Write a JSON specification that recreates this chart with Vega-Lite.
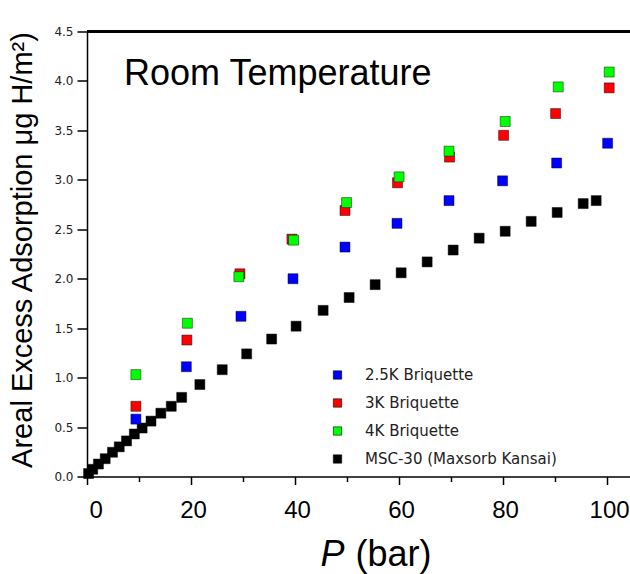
{
  "$schema": "https://vega.github.io/schema/vega-lite/v6.json",
  "width": 543,
  "height": 445,
  "autosize": {"type": "none"},
  "padding": {"left": 87, "top": 31.5, "right": 0, "bottom": 97.5},
  "background": "white",
  "config": {"view": {"stroke": null}, "font": "Liberation Sans"},
  "title": {"text": "Room Temperature", "anchor": "start", "frame": "group", "orient": "top", "offset": 0, "dx": 37, "dy": 95.5, "baseline": "alphabetic", "fontSize": 36, "fontWeight": "normal", "font": "Liberation Sans", "color": "black"},
  "data": {"values": [
    {"series": "MSC-30 (Maxsorb Kansai)", "P": 0.3, "A": 0.03},
    {"series": "MSC-30 (Maxsorb Kansai)", "P": 1.1, "A": 0.073},
    {"series": "MSC-30 (Maxsorb Kansai)", "P": 2.2, "A": 0.126},
    {"series": "MSC-30 (Maxsorb Kansai)", "P": 3.5, "A": 0.18},
    {"series": "MSC-30 (Maxsorb Kansai)", "P": 4.9, "A": 0.245},
    {"series": "MSC-30 (Maxsorb Kansai)", "P": 6.2, "A": 0.30},
    {"series": "MSC-30 (Maxsorb Kansai)", "P": 7.6, "A": 0.36},
    {"series": "MSC-30 (Maxsorb Kansai)", "P": 9.1, "A": 0.43},
    {"series": "MSC-30 (Maxsorb Kansai)", "P": 10.6, "A": 0.49},
    {"series": "MSC-30 (Maxsorb Kansai)", "P": 12.3, "A": 0.56},
    {"series": "MSC-30 (Maxsorb Kansai)", "P": 14.2, "A": 0.64},
    {"series": "MSC-30 (Maxsorb Kansai)", "P": 16.2, "A": 0.71},
    {"series": "MSC-30 (Maxsorb Kansai)", "P": 18.2, "A": 0.80},
    {"series": "MSC-30 (Maxsorb Kansai)", "P": 21.7, "A": 0.93},
    {"series": "MSC-30 (Maxsorb Kansai)", "P": 26.0, "A": 1.08},
    {"series": "MSC-30 (Maxsorb Kansai)", "P": 30.7, "A": 1.24},
    {"series": "MSC-30 (Maxsorb Kansai)", "P": 35.5, "A": 1.39},
    {"series": "MSC-30 (Maxsorb Kansai)", "P": 40.2, "A": 1.52},
    {"series": "MSC-30 (Maxsorb Kansai)", "P": 45.4, "A": 1.68},
    {"series": "MSC-30 (Maxsorb Kansai)", "P": 50.4, "A": 1.81},
    {"series": "MSC-30 (Maxsorb Kansai)", "P": 55.4, "A": 1.94},
    {"series": "MSC-30 (Maxsorb Kansai)", "P": 60.4, "A": 2.06},
    {"series": "MSC-30 (Maxsorb Kansai)", "P": 65.4, "A": 2.17},
    {"series": "MSC-30 (Maxsorb Kansai)", "P": 70.4, "A": 2.29},
    {"series": "MSC-30 (Maxsorb Kansai)", "P": 75.4, "A": 2.41},
    {"series": "MSC-30 (Maxsorb Kansai)", "P": 80.4, "A": 2.48},
    {"series": "MSC-30 (Maxsorb Kansai)", "P": 85.4, "A": 2.58},
    {"series": "MSC-30 (Maxsorb Kansai)", "P": 90.4, "A": 2.67},
    {"series": "MSC-30 (Maxsorb Kansai)", "P": 95.4, "A": 2.76},
    {"series": "MSC-30 (Maxsorb Kansai)", "P": 97.9, "A": 2.79},
    {"series": "2.5K Briquette", "P": 9.4, "A": 0.58},
    {"series": "2.5K Briquette", "P": 19.1, "A": 1.11},
    {"series": "2.5K Briquette", "P": 29.6, "A": 1.62},
    {"series": "2.5K Briquette", "P": 39.6, "A": 2.00},
    {"series": "2.5K Briquette", "P": 49.6, "A": 2.32},
    {"series": "2.5K Briquette", "P": 59.6, "A": 2.56},
    {"series": "2.5K Briquette", "P": 69.6, "A": 2.79},
    {"series": "2.5K Briquette", "P": 79.9, "A": 2.99},
    {"series": "2.5K Briquette", "P": 90.3, "A": 3.17},
    {"series": "2.5K Briquette", "P": 100.1, "A": 3.37},
    {"series": "3K Briquette", "P": 9.4, "A": 0.71},
    {"series": "3K Briquette", "P": 19.2, "A": 1.38},
    {"series": "3K Briquette", "P": 29.4, "A": 2.05},
    {"series": "3K Briquette", "P": 39.4, "A": 2.40},
    {"series": "3K Briquette", "P": 49.6, "A": 2.69},
    {"series": "3K Briquette", "P": 59.7, "A": 2.97},
    {"series": "3K Briquette", "P": 69.7, "A": 3.23},
    {"series": "3K Briquette", "P": 80.1, "A": 3.45},
    {"series": "3K Briquette", "P": 90.1, "A": 3.67},
    {"series": "3K Briquette", "P": 100.4, "A": 3.93},
    {"series": "4K Briquette", "P": 9.4, "A": 1.03},
    {"series": "4K Briquette", "P": 19.3, "A": 1.55},
    {"series": "4K Briquette", "P": 29.2, "A": 2.02},
    {"series": "4K Briquette", "P": 39.7, "A": 2.39},
    {"series": "4K Briquette", "P": 49.9, "A": 2.77},
    {"series": "4K Briquette", "P": 60.0, "A": 3.03},
    {"series": "4K Briquette", "P": 69.6, "A": 3.29},
    {"series": "4K Briquette", "P": 80.4, "A": 3.59},
    {"series": "4K Briquette", "P": 90.6, "A": 3.94},
    {"series": "4K Briquette", "P": 100.4, "A": 4.09}
  ]},
  "resolve": {"axis": {"x": "independent"}},
  "layer": [
    {
      "mark": {"type": "rule", "color": "black", "strokeWidth": 1.5},
      "encoding": {"y": {"datum": 4.5, "type": "quantitative"}}
    },
    {
      "mark": {"type": "point", "shape": "square", "filled": true, "size": 100, "stroke": "black", "strokeOpacity": 0.45, "strokeWidth": 1, "opacity": 1},
      "encoding": {
        "x": {"field": "P", "type": "quantitative",
          "scale": {"domain": [0, 104.4], "nice": false, "zero": false},
          "axis": {"orient": "bottom", "values": [0,10,20,30,40,50,60,70,80,90,100],
            "labelExpr": "datum.value % 20 === 0 ? datum.label : ''",
            "tickSize": {"condition": {"test": "datum.value % 20 === 0", "value": 8}, "value": 5},
            "labelFontSize": 24, "labelFont": "Liberation Sans", "labelColor": "black", "labelPadding": 14, "labelOffset": 2, "labelOverlap": false,
            "domainColor": "black", "domainWidth": 1.5, "tickColor": "black", "tickWidth": 1.5, "grid": false,
            "title": "P", "titleFontSize": 36, "titleFont": "Liberation Sans", "titleFontStyle": "italic", "titleFontWeight": "normal", "titleColor": "black",
            "titleX": 245, "titleY": 89, "titleBaseline": "alphabetic", "titleAlign": "center"}},
        "y": {"field": "A", "type": "quantitative",
          "scale": {"domain": [0, 4.5], "nice": false, "zero": false},
          "axis": {"values": [0,0.25,0.5,0.75,1,1.25,1.5,1.75,2,2.25,2.5,2.75,3,3.25,3.5,3.75,4,4.25,4.5],
            "format": ".1f",
            "labelExpr": "(datum.value * 2) % 1 === 0 ? datum.label : ''",
            "tickSize": {"condition": {"test": "(datum.value * 2) % 1 === 0", "value": 10}, "value": 5},
            "labelFontSize": 12, "labelFont": "DejaVu Sans", "labelColor": "#222", "labelPadding": 4, "labelOverlap": false,
            "domainColor": "black", "domainWidth": 1.5, "tickColor": "black", "tickWidth": 1.5, "grid": false,
            "title": "Areal Excess Adsorption μg H/m²)", "titleFontSize": 29, "titleFont": "Liberation Sans", "titleFontWeight": "normal", "titleColor": "black",
            "titleAngle": -90, "titleX": -65, "titleY": 218, "titleBaseline": "middle", "titleAlign": "center"}},
        "color": {"field": "series", "type": "nominal",
          "scale": {"domain": ["2.5K Briquette", "3K Briquette", "4K Briquette", "MSC-30 (Maxsorb Kansai)"], "range": ["#0000ff", "#ff0000", "#00ff00", "#000000"]},
          "legend": {"orient": "none", "legendX": 243, "legendY": 336, "direction": "vertical", "title": null,
            "labelFontSize": 15, "labelFont": "DejaVu Sans", "labelColor": "#222", "labelLimit": 400, "symbolType": "square", "symbolSize": 70,
            "rowPadding": 12, "labelOffset": 20, "symbolStrokeColor": "#000", "symbolStrokeWidth": 0.6, "symbolOpacity": 1, "padding": 0}}
      }
    },
    {
      "mark": {"type": "point", "opacity": 0},
      "encoding": {
        "x": {"field": "P", "type": "quantitative",
          "axis": {"orient": "bottom", "domain": false, "ticks": false, "labels": false, "grid": false,
            "title": "(bar)", "titleFontSize": 36, "titleFont": "Liberation Sans", "titleFontWeight": "normal", "titleColor": "black",
            "titleX": 306, "titleY": 89, "titleBaseline": "alphabetic", "titleAlign": "center"}}
      }
    }
  ]
}
